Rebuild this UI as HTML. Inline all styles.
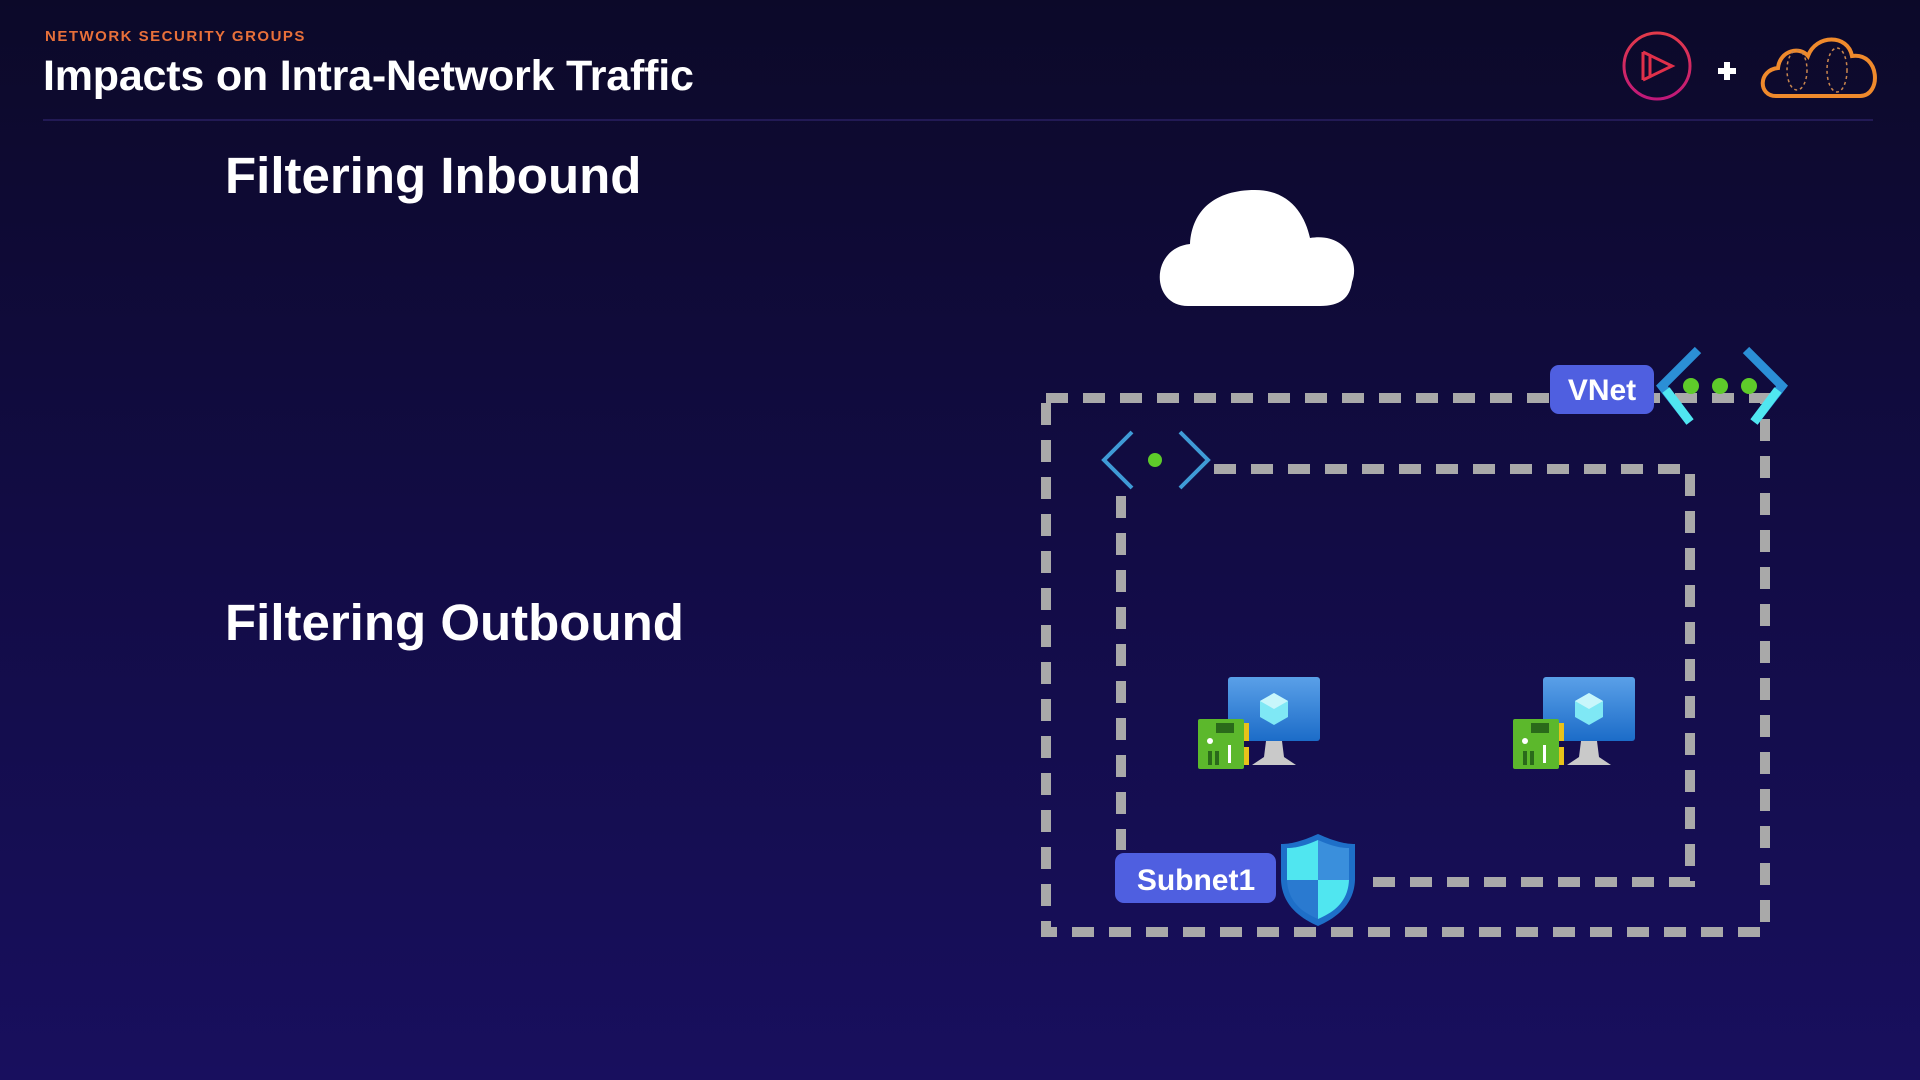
<!DOCTYPE html>
<html><head><meta charset="utf-8"><style>
html,body{margin:0;padding:0}
body{width:1920px;height:1080px;overflow:hidden;background:linear-gradient(180deg,#0c0929 0%,#120c45 50%,#180f5e 100%);font-family:"Liberation Sans",sans-serif;position:relative}
.t{position:absolute;color:#fff;font-weight:bold;white-space:nowrap}
</style></head><body>
<div class="t" style="left:45px;top:28px;font-size:15px;color:#e8703a;letter-spacing:1.5px">NETWORK SECURITY GROUPS</div>
<div class="t" style="left:43px;top:52px;font-size:43px;letter-spacing:-0.2px">Impacts on Intra-Network Traffic</div>
<div style="position:absolute;left:43px;top:119px;width:1830px;height:2px;background:#221a55"></div>
<div class="t" style="left:225px;top:146px;font-size:51px;letter-spacing:0">Filtering Inbound</div>
<div class="t" style="left:225px;top:593px;font-size:51px;letter-spacing:0">Filtering Outbound</div>
<svg width="1920" height="1080" style="position:absolute;left:0;top:0">
<defs>
<linearGradient id="mon" x1="0" y1="0" x2="0" y2="1"><stop offset="0" stop-color="#5aa0e8"/><stop offset="1" stop-color="#1c6cc8"/></linearGradient>
<linearGradient id="pr" x1="0" y1="0" x2="0" y2="1"><stop offset="0" stop-color="#e33a4a"/><stop offset="1" stop-color="#c0187a"/></linearGradient>
<g id="vm">
<rect x="30" y="0" width="92" height="64" rx="3" fill="url(#mon)"/>
<polygon points="76,16 90,24 90,40 76,48 62,40 62,24" fill="#7fe8f5"/>
<polygon points="76,16 90,24 76,32 62,24" fill="#c8f6fb"/>
<path d="M68 64 L84 64 L86 80 L98 88 L54 88 L66 80 Z" fill="#c9c9c9"/>
<rect x="0" y="42" width="46" height="50" rx="2" fill="#5cb82c"/>
<rect x="46" y="46" width="5" height="18" fill="#e8c21a"/><rect x="46" y="70" width="5" height="18" fill="#e8c21a"/>
<rect x="18" y="46" width="18" height="10" fill="#2a6a1a"/>
<rect x="10" y="74" width="4" height="14" fill="#2a6a1a"/><rect x="17" y="74" width="4" height="14" fill="#2a6a1a"/>
<rect x="30" y="68" width="3" height="18" fill="#fff"/><circle cx="12" cy="64" r="3" fill="#fff"/>
</g>
</defs>
<!-- logos -->
<circle cx="1657" cy="66" r="33" fill="none" stroke="url(#pr)" stroke-width="3"/>
<path d="M1643 52 L1643 80 M1643 52 L1672 66 L1643 80 M1650 56 L1650 76" fill="none" stroke="#e0304a" stroke-width="3"/>
<path d="M1727 62 V80 M1718 71 H1736" stroke="#fff" stroke-width="6"/>
<path d="M1776 96 C1758 96 1758 70 1778 68 C1780 50 1800 46 1808 56 C1816 34 1848 34 1852 56 C1880 52 1882 96 1860 96 Z" fill="none" stroke="#ef8a2c" stroke-width="4"/>
<ellipse cx="1797" cy="70" rx="10" ry="20" fill="none" stroke="#c9864e" stroke-width="1.5" stroke-dasharray="3 3"/>
<ellipse cx="1837" cy="70" rx="10" ry="22" fill="none" stroke="#c9864e" stroke-width="1.5" stroke-dasharray="3 3"/>
<!-- cloud -->
<path d="M1188 306 C1150 306 1150 248 1190 244 C1192 210 1215 190 1255 190 C1290 190 1305 215 1310 238 C1345 232 1360 262 1352 282 C1350 298 1340 306 1320 306 Z" fill="#fff"/>
<!-- dashed rects -->
<rect x="1046" y="398" width="719" height="534" fill="none" stroke="#a9a9a9" stroke-width="10" stroke-dasharray="22 15"/>
<path d="M1214 469 H1690 V882 H1372" fill="none" stroke="#a9a9a9" stroke-width="10" stroke-dasharray="22 15"/>
<path d="M1121 496 V850" fill="none" stroke="#a9a9a9" stroke-width="10" stroke-dasharray="22 15"/>
<!-- subnet icon -->
<path d="M1132 432 L1104 460 L1132 488" fill="none" stroke="#3f9bd6" stroke-width="4"/>
<path d="M1180 432 L1208 460 L1180 488" fill="none" stroke="#3f9bd6" stroke-width="4"/>
<circle cx="1155" cy="460" r="7" fill="#5ecb2a"/>
<!-- VNet -->
<rect x="1550" y="365" width="104" height="49" rx="9" fill="#4f5fe0"/>
<text x="1602" y="400" fill="#fff" font-size="30" font-weight="bold" text-anchor="middle" font-family="Liberation Sans">VNet</text>
<path d="M1698 350 L1662 386 L1690 422" fill="none" stroke="#2b8fd6" stroke-width="9"/>
<path d="M1666 390 L1690 422" stroke="#50e6f0" stroke-width="9"/>
<path d="M1746 350 L1782 386 L1754 422" fill="none" stroke="#2b8fd6" stroke-width="9"/>
<path d="M1778 390 L1754 422" stroke="#50e6f0" stroke-width="9"/>
<circle cx="1691" cy="386" r="8" fill="#5ecb2a"/><circle cx="1720" cy="386" r="8" fill="#5ecb2a"/><circle cx="1749" cy="386" r="8" fill="#5ecb2a"/>
<!-- Subnet1 -->
<rect x="1115" y="853" width="161" height="50" rx="9" fill="#4f5fe0"/>
<text x="1196" y="890" fill="#fff" font-size="30" font-weight="bold" text-anchor="middle" font-family="Liberation Sans">Subnet1</text>
<path d="M1318 834 C1300 842 1290 844 1281 844 L1281 880 C1282 905 1300 918 1318 926 C1336 918 1354 905 1355 880 L1355 844 C1346 844 1336 842 1318 834 Z" fill="#1e6fc8"/>
<path d="M1318 840 C1302 847 1294 848 1287 848 L1287 880 L1318 880 Z" fill="#50e6f0"/>
<path d="M1318 880 L1349 880 C1348 902 1334 912 1318 919 Z" fill="#50e6f0"/>
<path d="M1318 840 C1334 847 1342 848 1349 848 L1349 880 L1318 880 Z" fill="#3a8fdc"/>
<path d="M1287 880 L1318 880 L1318 919 C1302 912 1288 902 1287 880 Z" fill="#2a7ad0"/>
<use href="#vm" x="1198" y="677"/>
<use href="#vm" x="1513" y="677"/>
</svg>
</body></html>
